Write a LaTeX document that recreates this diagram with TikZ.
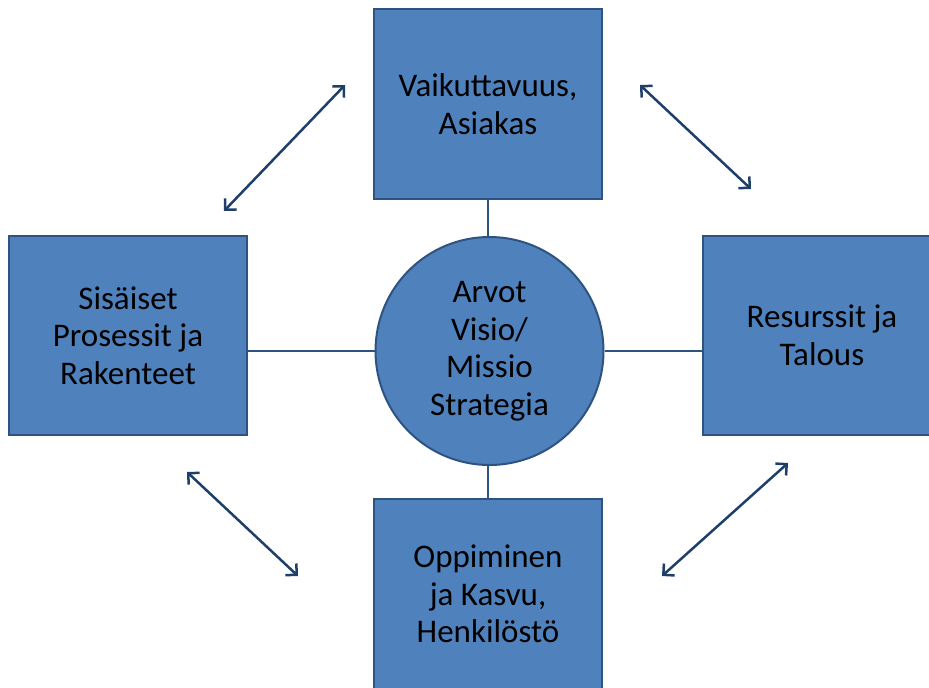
\documentclass[tikz,border=0pt]{standalone}
\usepackage{fontspec}
\setmainfont{Carlito}
\usetikzlibrary{arrows.meta,shapes.geometric}
\definecolor{boxfill}{HTML}{4F81BD}
\definecolor{boxline}{HTML}{2E5380}
\definecolor{arrowblue}{HTML}{1F3F6B}
\begin{document}
\begin{tikzpicture}[x=1pt,y=-1pt,
	boxnode/.style={draw=boxline,fill=boxfill,line width=2pt,align=center,
		font=\fontsize{33}{37.5}\selectfont,inner sep=0pt},
	link/.style={draw=boxline,line width=2.5pt},
	twoway/.style={draw=arrowblue,line width=2.5pt,{Straight Barb[length=8pt,width=16pt]}-{Straight Barb[length=8pt,width=16pt]}}]
	\clip (0,0) rectangle (929,688);
	
	\node[boxnode,circle,minimum size=228pt] (arvot) at (489.5,351) {Arvot\\Visio/\\Missio\\Strategia};
	\node[boxnode,minimum width=228pt,minimum height=190pt] (vaik) at (488,104) {Vaikuttavuus,\\Asiakas};
	\node[boxnode,minimum width=238pt,minimum height=199pt] (sis) at (128,335.5) {Sisäiset\\Prosessit ja\\Rakenteet};
	\node[boxnode,minimum width=238pt,minimum height=199pt] (res) at (822,335.5) {Resurssit ja\\Talous};
	\node[boxnode,minimum width=228pt,minimum height=190pt] (opp) at (488,594) {Oppiminen\\ja Kasvu,\\Henkilöstö};
	
	\draw[link] (vaik.south) -- (vaik.south |- arvot.north);
	\draw[link] (opp.north) -- (opp.north |- arvot.south);
	\draw[link] (arvot.west) -- (arvot.west -| sis.east);
	\draw[link] (arvot.east) -- (arvot.east -| res.west);
	
	% nuolet
	\coordinate (a1) at (224,211); \coordinate (a2) at (345,85);
	\coordinate (b1) at (640,85); \coordinate (b2) at (751,189);
	\coordinate (c1) at (187,472); \coordinate (c2) at (298,576);
	\coordinate (d1) at (788,463); \coordinate (d2) at (662,576);
	\draw[twoway] (a1) -- (a2);
	\draw[twoway] (b1) -- (b2);
	\draw[twoway] (c1) -- (c2);
	\draw[twoway] (d1) -- (d2);
\end{tikzpicture}
\end{document}
